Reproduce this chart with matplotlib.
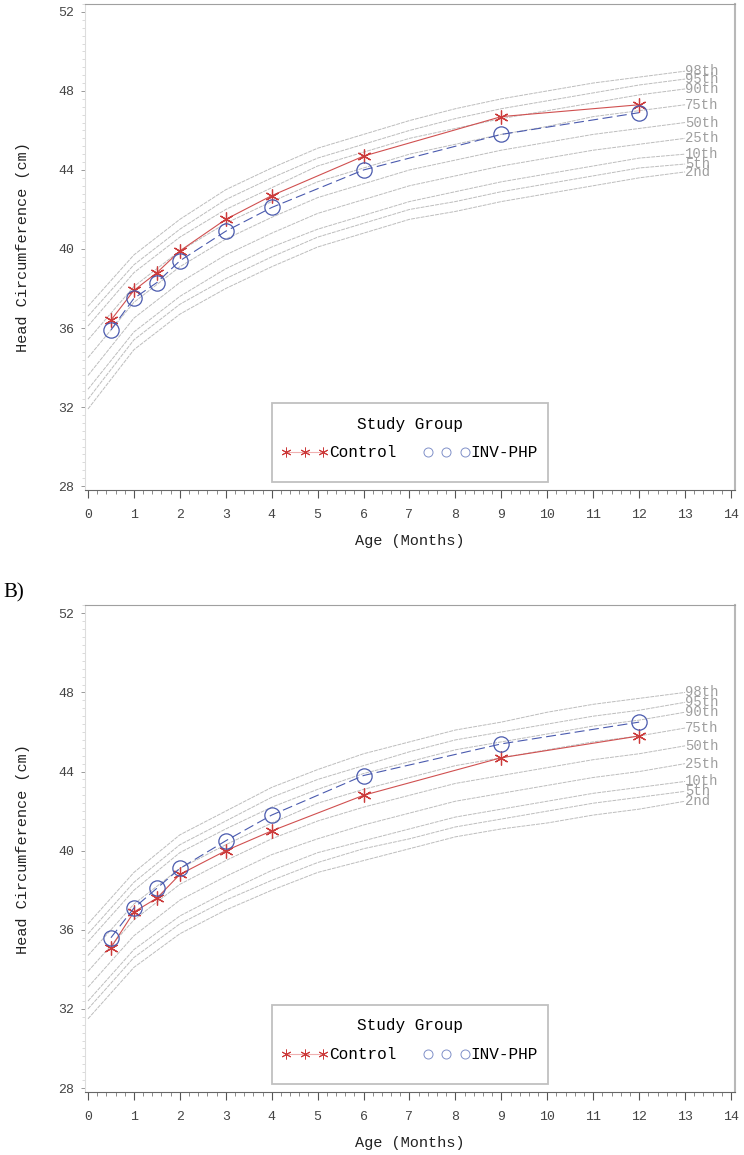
import matplotlib
matplotlib.use('Agg')
import matplotlib.pyplot as plt
from matplotlib.lines import Line2D
from matplotlib.patches import Rectangle
from matplotlib.ticker import MultipleLocator

# visit ages (months) and reference-curve months
ages = [0.5, 1, 1.5, 2, 3, 4, 6, 9, 12]
ref_months = [0, 1, 2, 3, 4, 5, 6, 7, 8, 9, 10, 11, 12, 13]
pct_labels = ['2nd', '5th', '10th', '25th', '50th', '75th', '90th', '95th', '98th']

# panel A reference percentiles (one row per percentile, 0..13 months)
a_p02 = [31.9, 34.9, 36.7, 38.0, 39.1, 40.1, 40.8, 41.5, 41.9, 42.4, 42.8, 43.2, 43.6, 43.9]
a_p05 = [32.4, 35.4, 37.2, 38.5, 39.6, 40.6, 41.3, 42.0, 42.4, 42.9, 43.3, 43.7, 44.1, 44.3]
a_p10 = [32.9, 35.8, 37.6, 39.0, 40.1, 41.0, 41.7, 42.4, 42.9, 43.4, 43.8, 44.2, 44.6, 44.8]
a_p25 = [33.6, 36.5, 38.3, 39.7, 40.8, 41.8, 42.5, 43.2, 43.7, 44.2, 44.6, 45.0, 45.3, 45.6]
a_p50 = [34.5, 37.3, 39.1, 40.5, 41.6, 42.6, 43.3, 44.0, 44.5, 45.0, 45.4, 45.8, 46.1, 46.4]
a_p75 = [35.4, 38.1, 39.9, 41.3, 42.4, 43.4, 44.1, 44.8, 45.3, 45.8, 46.2, 46.7, 47.0, 47.3]
a_p90 = [36.1, 38.8, 40.6, 42.0, 43.1, 44.2, 44.9, 45.6, 46.1, 46.6, 47.0, 47.4, 47.8, 48.1]
a_p95 = [36.6, 39.2, 41.0, 42.5, 43.6, 44.6, 45.3, 46.0, 46.6, 47.1, 47.5, 47.9, 48.3, 48.6]
a_p98 = [37.1, 39.7, 41.5, 43.0, 44.1, 45.1, 45.8, 46.5, 47.1, 47.6, 48.0, 48.4, 48.7, 49.0]

# panel B reference percentiles
b_p02 = [31.5, 34.1, 35.8, 37.0, 38.0, 38.9, 39.5, 40.1, 40.7, 41.1, 41.4, 41.8, 42.1, 42.5]
b_p05 = [32.0, 34.6, 36.3, 37.5, 38.5, 39.4, 40.1, 40.6, 41.2, 41.6, 42.0, 42.4, 42.7, 43.0]
b_p10 = [32.4, 35.0, 36.7, 37.9, 39.0, 39.9, 40.5, 41.1, 41.7, 42.1, 42.5, 42.9, 43.2, 43.5]
b_p25 = [33.1, 35.7, 37.5, 38.7, 39.8, 40.6, 41.3, 41.9, 42.5, 42.9, 43.3, 43.7, 44.0, 44.4]
b_p50 = [33.9, 36.5, 38.3, 39.5, 40.6, 41.5, 42.2, 42.8, 43.4, 43.8, 44.2, 44.6, 44.9, 45.3]
b_p75 = [34.7, 37.3, 39.1, 40.3, 41.4, 42.4, 43.1, 43.7, 44.3, 44.7, 45.1, 45.5, 45.8, 46.2]
b_p90 = [35.4, 38.0, 39.9, 41.1, 42.2, 43.1, 43.9, 44.5, 45.1, 45.5, 45.9, 46.3, 46.6, 47.0]
b_p95 = [35.8, 38.4, 40.3, 41.5, 42.7, 43.6, 44.3, 45.0, 45.6, 46.0, 46.4, 46.8, 47.1, 47.5]
b_p98 = [36.3, 38.9, 40.8, 42.0, 43.2, 44.1, 44.9, 45.5, 46.1, 46.5, 47.0, 47.4, 47.7, 48.0]

# study group means
a_control = [36.4, 37.9, 38.8, 39.9, 41.5, 42.7, 44.7, 46.7, 47.3]
a_inv = [35.9, 37.5, 38.3, 39.4, 40.9, 42.1, 44.0, 45.8, 46.9]
b_control = [35.1, 36.9, 37.6, 38.8, 40.0, 41.0, 42.8, 44.7, 45.8]
b_inv = [35.6, 37.1, 38.1, 39.1, 40.5, 41.8, 43.8, 45.4, 46.5]

a_curves = [a_p02, a_p05, a_p10, a_p25, a_p50, a_p75, a_p90, a_p95, a_p98]
b_curves = [b_p02, b_p05, b_p10, b_p25, b_p50, b_p75, b_p90, b_p95, b_p98]

MONO = 'Liberation Mono'
RED = '#cc3b3b'
BLUE = '#4a5aae'
GREY = '#bdbdbd'
ASTER = (6, 2, 0)


def draw_panel(ax, curves, control, inv):
    for vals, lab in zip(curves, pct_labels):
        ax.plot(ref_months, vals, color=GREY, lw=0.7, ls=(0, (4, 1)), zorder=1)
        ax.text(ref_months[-1], vals[-1], lab, color='#9e9e9e', fontsize=10,
                family=MONO, ha='left', va='center')

    ax.plot(ages, control, color='#d05050', lw=0.8, marker=ASTER, ms=10, mew=0.9,
            mec=RED, zorder=3)
    ax.plot(ages, inv, color=BLUE, lw=0.8, ls=(0, (9, 4)), marker='o', ms=11,
            mfc='none', mec=BLUE, mew=0.9, zorder=3)

    ax.set_xlim(-0.065, 14.087)
    ax.set_ylim(27.8, 52.4)
    ax.xaxis.set_major_locator(MultipleLocator(1))
    ax.xaxis.set_minor_locator(MultipleLocator(0.2))
    ax.yaxis.set_major_locator(MultipleLocator(4))
    ax.yaxis.set_minor_locator(MultipleLocator(0.4))
    ax.tick_params(axis='x', which='major', length=6, width=0.8, color='#555555',
                   pad=8, labelsize=9.5, labelcolor='#444444')
    ax.tick_params(axis='x', which='minor', length=3, width=0.6, color='#777777')
    ax.tick_params(axis='y', which='major', length=3, width=0.7, color='#999999',
                   pad=5, labelsize=9.5, labelcolor='#444444')
    ax.tick_params(axis='y', which='minor', length=2, width=0.5, color='#cccccc')
    for lab in ax.get_xticklabels() + ax.get_yticklabels():
        lab.set_family(MONO)

    ax.spines['left'].set_color('#dddddd')
    ax.spines['top'].set_color('#a0a0a0')
    ax.spines['right'].set_color('#b8b8b8')
    ax.spines['right'].set_linewidth(1.5)
    ax.spines['bottom'].set_color('#666666')

    ax.set_xlabel('Age (Months)', family=MONO, fontsize=11, labelpad=9, color='#222222')
    ax.set_ylabel('Head Circumference (cm)', family=MONO, fontsize=11, labelpad=20,
                  color='#222222')

    # legend frame and entries
    ax.add_patch(Rectangle((0.2877, 0.0165), 0.4246, 0.163, transform=ax.transAxes,
                           fill=False, ec='#c0c0c0', lw=1.3, zorder=4))
    handles = [
        Line2D([], [], color='#f0b0b0', lw=0.8, marker=ASTER, ms=7, mec=RED, mew=0.7),
        Line2D([], [], color='none', marker='o', ms=6.5, mfc='none', mec='#8090c8', mew=0.7),
    ]
    leg = ax.legend(handles, ['Control', 'INV-PHP'], title='Study Group', ncol=2,
                    loc='center', bbox_to_anchor=(0.4995, 0.106), numpoints=3,
                    frameon=False, handlelength=2.9, handletextpad=0.05,
                    columnspacing=1.7, prop={'family': MONO, 'size': 11.5})
    leg.get_title().set_family(MONO)
    leg.get_title().set_fontsize(11.5)
    leg._legend_box.sep = 10


fig = plt.figure(figsize=(7.44, 11.55), dpi=100)
ax_a = fig.add_axes([85 / 744, 1 - 490 / 1155, 650 / 744, 486 / 1155])
ax_b = fig.add_axes([85 / 744, 1 - 1092 / 1155, 650 / 744, 486.6 / 1155])

draw_panel(ax_a, a_curves, a_control, a_inv)
draw_panel(ax_b, b_curves, b_control, b_inv)

fig.text(0.004, 1 - 593 / 1155, 'B)', fontsize=15, family='Liberation Serif', va='center')

fig.savefig('out.png', dpi=100)
